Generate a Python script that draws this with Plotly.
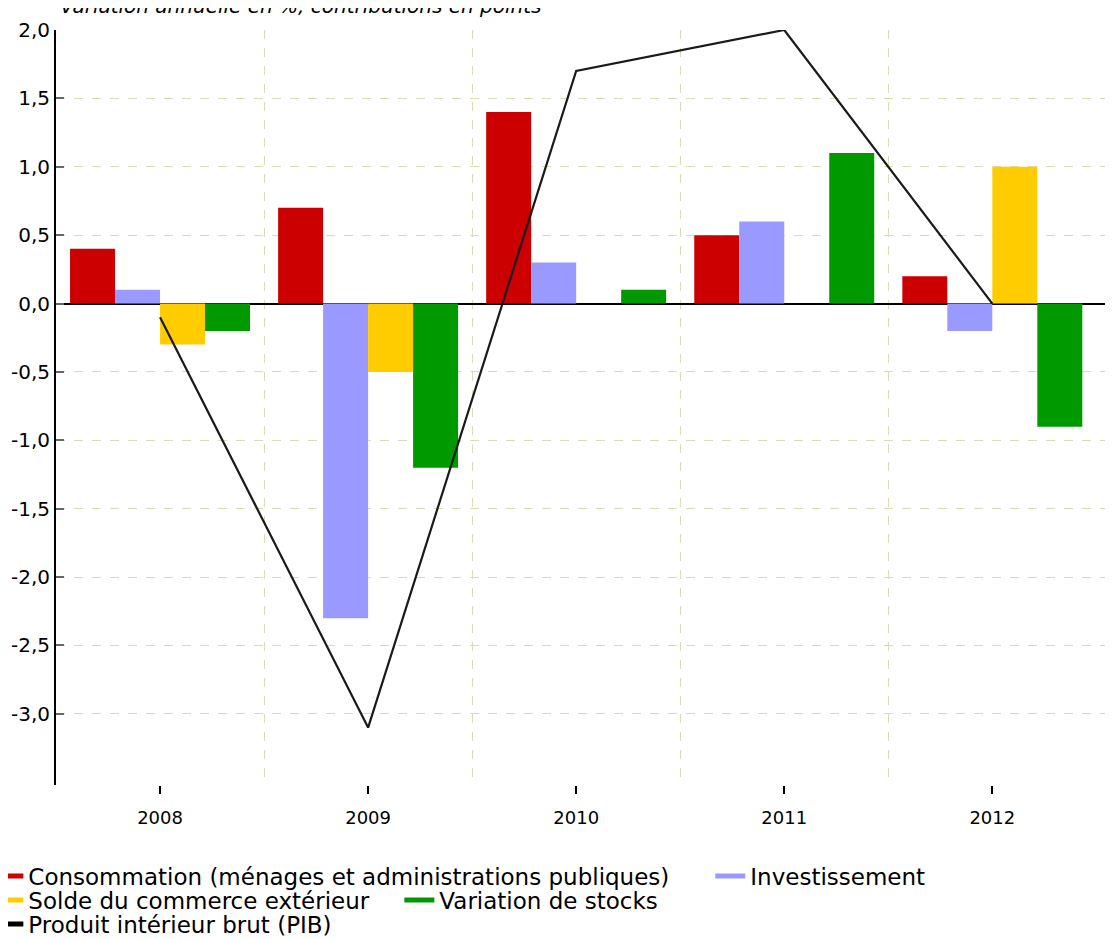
import plotly.graph_objects as go

years = ["2008", "2009", "2010", "2011", "2012"]
consommation = [0.4, 0.7, 1.4, 0.5, 0.2]
investissement = [0.1, -2.3, 0.3, 0.6, -0.2]
solde_commerce = [-0.3, -0.5, 0.0, 0.0, 1.0]
variation_stocks = [-0.2, -1.2, 0.1, 1.1, -0.9]
pib = [-0.1, -3.1, 1.7, 2.0, 0.0]

y_ticks = [-3.0, -2.5, -2.0, -1.5, -1.0, -0.5, 0.0, 0.5, 1.0, 1.5, 2.0]
y_labels = [f"{v:.1f}".replace(".", ",") for v in y_ticks]

FONT = "DejaVu Sans"
GRID = "#dcdcb4"
x = list(range(len(years)))

series = [
    ("Consommation (ménages et administrations publiques)", consommation, "#cc0000", "legend"),
    ("Investissement", investissement, "#9999ff", "legend4"),
    ("Solde du commerce extérieur", solde_commerce, "#ffcc00", "legend2"),
    ("Variation de stocks", variation_stocks, "#009900", "legend2"),
]

fig = go.Figure()

for name, vals, color, _ in series:
    fig.add_trace(go.Bar(x=x, y=vals, name=name, marker=dict(color=color, line=dict(width=0)),
                         showlegend=False))

fig.add_trace(go.Scatter(x=x, y=pib, mode="lines", name="Produit intérieur brut (PIB)",
                         line=dict(color="#1a1a1a", width=2.2), showlegend=False))

# legend entries drawn as short thick strokes
for name, _, color, lg in series:
    fig.add_trace(go.Scatter(x=[None], y=[None], mode="lines", name=name,
                             line=dict(color=color, width=5), legend=lg))
fig.add_trace(go.Scatter(x=[None], y=[None], mode="lines", name="Produit intérieur brut (PIB)",
                         line=dict(color="#000000", width=5), legend="legend3"))

legend_common = dict(orientation="h", xanchor="left", yanchor="middle", x=-0.064,
                     font=dict(family=FONT, size=23, color="#000"),
                     bgcolor="rgba(0,0,0,0)", itemwidth=30, tracegroupgap=0)

# page body has an 8px margin, so the figure is sized to fit the window
fig.update_layout(
    width=1105, height=931,
    margin=dict(l=48, r=0, t=22, b=154, autoexpand=False),
    paper_bgcolor="white", plot_bgcolor="white",
    barmode="group", bargap=0.135, bargroupgap=0,
    font=dict(family=FONT, size=18, color="#000"),
    legend=dict(legend_common, y=-0.1205),
    legend4=dict(legend_common, y=-0.1205, x=0.619),
    legend2=dict(legend_common, y=-0.1523, entrywidth=366, entrywidthmode="pixels"),
    legend3=dict(legend_common, y=-0.1841),
    xaxis=dict(
        range=[-0.5, 4.58], tickvals=x, ticktext=years, automargin=False,
        showgrid=False, zeroline=False, showline=False,
        ticks="outside", ticklen=8, tickwidth=1.5, tickcolor="#000",
        tickfont=dict(family=FONT, size=18), ticklabelstandoff=8,
        minor=dict(tickvals=[0.5, 1.5, 2.5, 3.5], showgrid=True, gridcolor=GRID,
                   griddash="dash", gridwidth=1, ticks=""),
    ),
    yaxis=dict(
        range=[-3.52, 2.0], tickvals=y_ticks, ticktext=y_labels, automargin=False,
        showgrid=True, gridcolor=GRID, griddash="dash", gridwidth=1,
        zeroline=True, zerolinecolor="#000", zerolinewidth=2,
        showline=True, linecolor="#000", linewidth=2,
        ticks="inside", ticklen=8, tickwidth=1.5, tickcolor="#666",
        tickfont=dict(family=FONT, size=20),
    ),
    annotations=[dict(
        text="Variation annuelle en %, contributions en points",
        xref="paper", yref="paper", x=0.0, y=1.0, xanchor="left", yanchor="bottom",
        xshift=2, yshift=10, showarrow=False,
        font=dict(family=FONT, size=20, color="#000", style="italic"),
    )],
)

fig.write_html("out.html")
